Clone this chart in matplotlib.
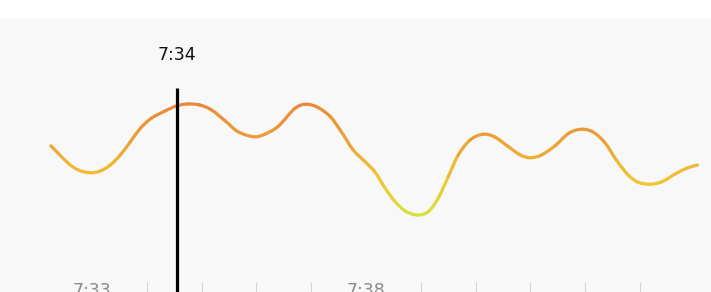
import numpy as np
import matplotlib
matplotlib.use("Agg")
import matplotlib.pyplot as plt
from matplotlib.path import Path
from matplotlib.patches import PathPatch
from matplotlib.colors import LinearSegmentedColormap, Normalize

# seconds after 7:32:00 and heart rate (bpm)
secs = [15, 23, 34, 45, 58, 69, 80, 91, 102, 113, 125, 140, 153, 165, 178,
        191, 206, 220, 237, 249, 264, 282, 295, 308, 321, 333, 346, 359,
        370, 381, 392, 403, 416, 428, 439, 450, 461, 474, 488, 501, 516, 529,
        540, 552, 567, 582, 596, 609, 622, 634, 647, 658, 671, 684, 698, 711,
        723]
hr = [101.7, 98.7, 94.7, 92.0, 90.9, 91.6, 94.0, 98.0, 103.3, 108.7, 112.7,
      115.6, 117.7, 118.4, 118.0, 116.0, 111.6, 107.3, 105.3, 106.3, 109.5,
      116.6, 118.3, 116.9, 113.3, 107.3, 100.0, 95.3, 91.1, 84.7, 79.3,
      75.6, 74.0, 75.3, 80.7, 89.3, 98.0, 104.0, 106.3, 105.2, 101.3, 98.0,
      96.9, 98.0, 101.7, 106.7, 108.3, 107.1, 102.7, 96.0, 90.0, 87.1, 86.3,
      87.3, 90.3, 92.7, 94.0]

label_secs = [60, 360]
label_text = ['7:33', '7:38']
minor_secs = [120, 180, 240, 300, 420, 480, 540, 600, 660]

cursor_sec = 153
cursor_label = '7:34'

x = np.array(secs, dtype=float)
y = np.array(hr)

fig = plt.figure(figsize=(7.11, 2.92), dpi=100)
fig.patch.set_facecolor('white')
ax = fig.add_axes([0, 0, 1, 274 / 292])
ax.set_facecolor('#f8f8f8')
for s in ax.spines.values():
    s.set_visible(False)

ax.set_xlim(-40.7, 737.7)
ax.set_ylim(43.2, 152.8)

# smooth line (catmull-rom as bezier), coloured yellow->orange by value
cmap = LinearSegmentedColormap.from_list('hr', ['#d6e33e', '#f2c233', '#eba136', '#e8883e'])
norm = Normalize(y.min(), y.max())
P = np.column_stack([x, y])
n = len(P)
for i in range(n - 1):
    p0 = P[max(i - 1, 0)]
    p1 = P[i]
    p2 = P[i + 1]
    p3 = P[min(i + 2, n - 1)]
    c1 = p1 + (p2 - p0) / 6
    c2 = p2 - (p3 - p1) / 6
    path = Path([p1, c1, c2, p2], [Path.MOVETO, Path.CURVE4, Path.CURVE4, Path.CURVE4])
    col = cmap(norm((p1[1] + p2[1]) / 2))
    ax.add_patch(PathPatch(path, fill=False, edgecolor=col, lw=2.3, capstyle='round'))

# cursor
ax.plot([cursor_sec, cursor_sec], [43.2, 124.8], color='black', lw=2.3, solid_capstyle='butt')
ax.text(cursor_sec, 138, cursor_label, ha='center', va='center', fontsize=12.5,
        color='#111111', family='DejaVu Sans')

# axis ticks drawn inside the plot
ax.set_xticks(minor_secs)
ax.set_yticks([])
ax.tick_params(axis='x', direction='in', length=7, width=0.8, color='#d5d5d5',
               labelbottom=False, pad=0)
for s, t in zip(label_secs, label_text):
    ax.text(s, 47.2, t, ha='center', va='top', fontsize=12.5, color='#8a8a8a',
            family='DejaVu Sans')

fig.savefig('out.png', dpi=100, facecolor='white')
